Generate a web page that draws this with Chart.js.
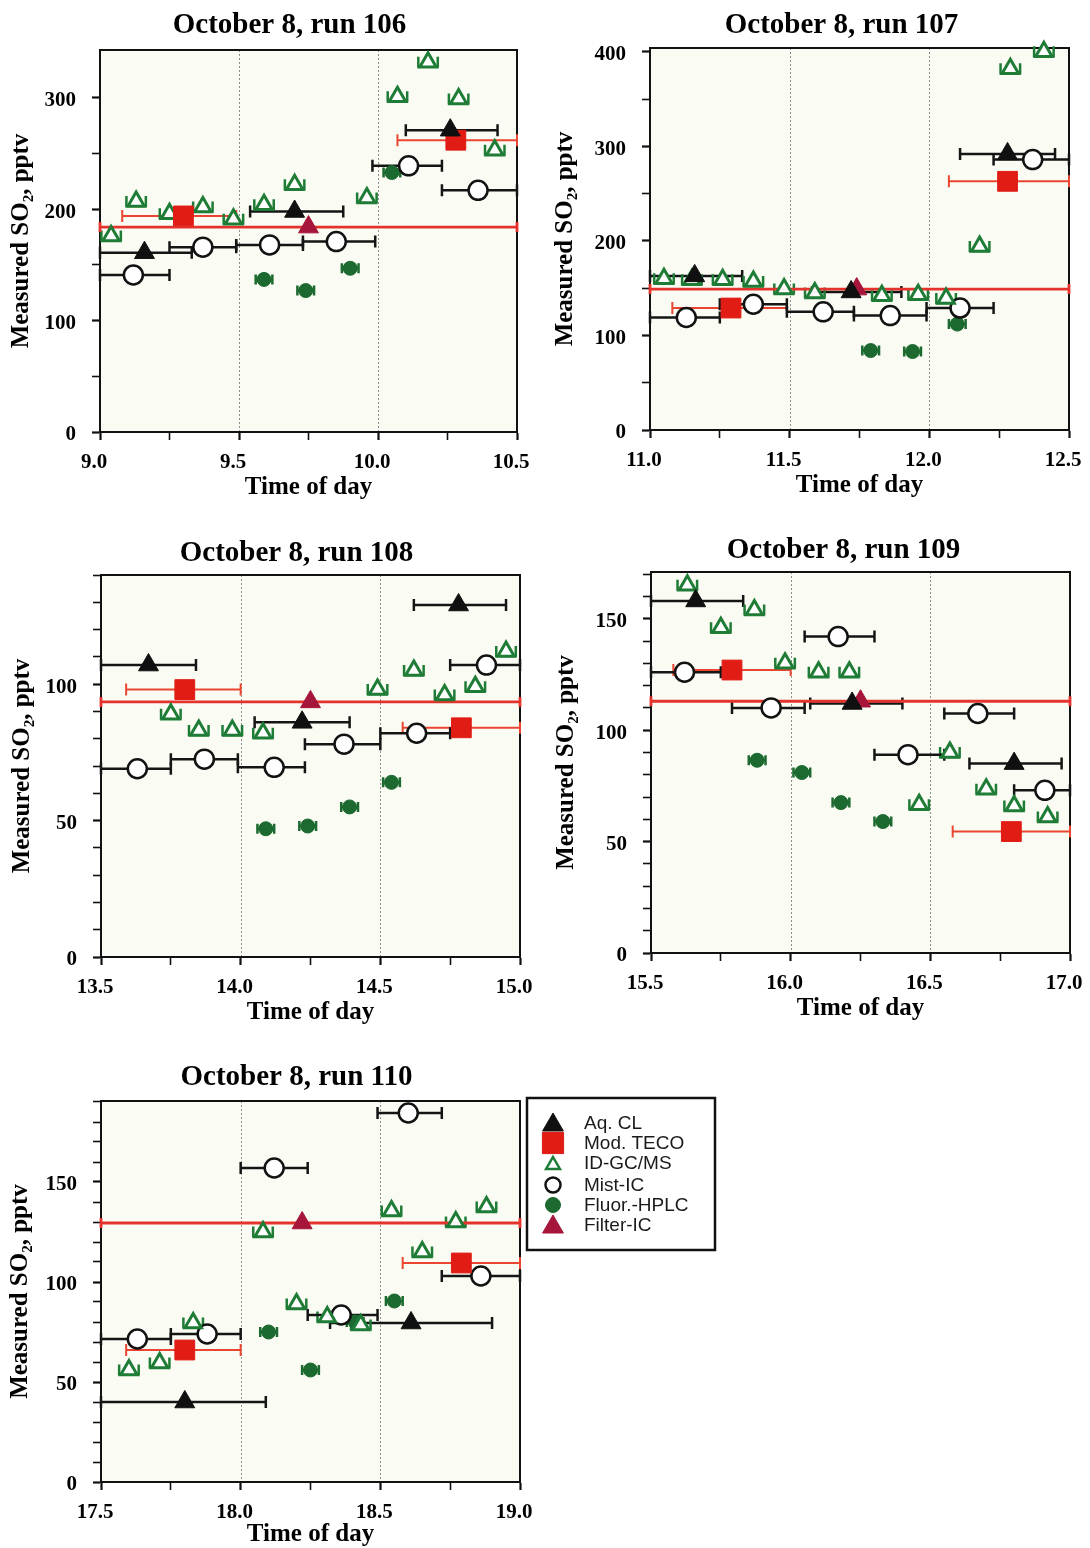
<!DOCTYPE html>
<html>
<head>
<meta charset="utf-8">
<script src="https://cdn.jsdelivr.net/npm/chart.js@4.4.0/dist/chart.umd.min.js"></script>
<style>
html,body{margin:0;padding:0;background:#ffffff;width:1090px;height:1548px;overflow:hidden;}
canvas{position:absolute;display:block;}
</style>
</head>
<body>
<script>
// ================= DATA =================
const seriesNames = ['Aq. CL', 'Mod. TECO', 'ID-GC/MS', 'Mist-IC', 'Fluor.-HPLC', 'Filter-IC'];
const panelTitles = ['October 8, run 106', 'October 8, run 107', 'October 8, run 108', 'October 8, run 109', 'October 8, run 110'];
const xRanges = [[9.0, 10.5], [11.0, 12.5], [13.5, 15.0], [15.5, 17.0], [17.5, 19.0]];
const yMaxes = [343, 404, 140, 171, 190.5];
const yTickSteps = [50, 50, 10, 10, 10];
const yLabelSteps = [100, 100, 50, 50, 50];
const xTickStep = 0.25;
const xLabelStep = 0.5;
const xAxisTitle = 'Time of day';
const yAxisTitle = 'Measured SO\u2082, pptv';
// half-width (hours) of the small sampling bars of ID-GC/MS and Fluor.-HPLC
const gcmsHalf = 0.035;
const hplcHalf = 0.03;

// points: [time, SO2, timeStart, timeEnd]
// ---- run 106 ----
const r106_aq = [[9.16, 161, 9.0, 9.33], [9.70, 198, 9.54, 9.875], [10.26, 271, 10.10, 10.43]];
const r106_teco = [[9.30, 194, 9.08, 9.49], [10.28, 262, 10.07, 10.5]];
const r106_gcms = [[9.04, 176], [9.13, 207], [9.25, 196], [9.37, 202], [9.48, 191], [9.59, 204], [9.70, 222], [9.96, 210], [10.07, 301], [10.18, 332], [10.29, 299], [10.42, 253]];
const r106_mist = [[9.12, 141, 9.0, 9.25], [9.37, 166, 9.25, 9.49], [9.61, 168, 9.49, 9.73], [9.85, 171, 9.73, 9.99], [10.11, 239, 9.98, 10.23], [10.36, 217, 10.23, 10.5]];
const r106_hplc = [[9.59, 137], [9.74, 127], [9.90, 147], [10.05, 233]];
const r106_filter = [[9.75, 184, 9.0, 10.5]];
// ---- run 107 ----
const r107_aq = [[11.16, 163, 11.0, 11.33], [11.72, 146, 11.58, 11.90], [12.28, 292, 12.11, 12.45]];
const r107_teco = [[11.29, 129, 11.08, 11.49], [12.28, 263, 12.07, 12.5]];
const r107_gcms = [[11.05, 160], [11.15, 159], [11.26, 159], [11.37, 157], [11.48, 149], [11.59, 145], [11.83, 142], [11.96, 143], [12.06, 139], [12.18, 194], [12.29, 382], [12.41, 400]];
const r107_mist = [[11.13, 119, 11.0, 11.25], [11.37, 133, 11.25, 11.49], [11.62, 125, 11.49, 11.73], [11.86, 121, 11.73, 11.99], [12.11, 129, 11.99, 12.23], [12.37, 286, 12.23, 12.5]];
const r107_hplc = [[11.79, 84], [11.94, 83], [12.10, 112]];
const r107_filter = [[11.74, 149, 11.0, 12.5]];
// ---- run 108 ----
const r108_aq = [[13.67, 107, 13.5, 13.84], [14.22, 86, 14.05, 14.39], [14.78, 129, 14.62, 14.95]];
const r108_teco = [[13.80, 98, 13.59, 14.0], [14.79, 84, 14.58, 15.0]];
const r108_gcms = [[13.75, 89], [13.85, 83], [13.97, 83], [14.08, 82], [14.49, 98], [14.62, 105], [14.73, 96], [14.84, 99], [14.95, 112]];
const r108_mist = [[13.63, 69, 13.5, 13.75], [13.87, 72.5, 13.75, 13.99], [14.12, 69.5, 13.99, 14.23], [14.37, 78, 14.23, 14.5], [14.63, 82, 14.5, 14.75], [14.88, 107, 14.75, 15.0]];
const r108_hplc = [[14.09, 47], [14.24, 48], [14.39, 55], [14.54, 64]];
const r108_filter = [[14.25, 93.5, 13.5, 15.0]];
// ---- run 109 ----
const r109_aq = [[15.66, 158, 15.5, 15.83], [16.22, 112, 16.07, 16.40], [16.80, 85, 16.64, 16.97]];
const r109_teco = [[15.79, 127, 15.58, 16.0], [16.79, 54.5, 16.58, 17.0]];
const r109_gcms = [[15.63, 165], [15.75, 146], [15.87, 154], [15.98, 130], [16.10, 126], [16.21, 126], [16.46, 66.5], [16.57, 90], [16.70, 73.5], [16.80, 66], [16.92, 61]];
const r109_mist = [[15.62, 126, 15.5, 15.75], [15.93, 110, 15.79, 16.05], [16.17, 142, 16.05, 16.3], [16.42, 89, 16.3, 16.55], [16.67, 107.5, 16.55, 16.8], [16.91, 73, 16.8, 17.0]];
const r109_hplc = [[15.88, 86.5], [16.04, 81], [16.18, 67.5], [16.33, 59]];
const r109_filter = [[16.25, 113, 15.5, 17.0]];
// ---- run 110 ----
const r110_aq = [[17.80, 40, 17.5, 18.09], [18.61, 79.5, 18.32, 18.90]];
const r110_teco = [[17.80, 66, 17.59, 18.0], [18.79, 109.5, 18.58, 19.0]];
const r110_gcms = [[17.60, 56], [17.71, 59.5], [17.83, 79.5], [18.08, 125], [18.20, 89], [18.31, 82.5], [18.43, 78.5], [18.54, 135.5], [18.65, 115], [18.77, 130], [18.88, 137.5]];
const r110_mist = [[17.63, 71.5, 17.5, 17.75], [17.88, 74, 17.75, 18.0], [18.12, 157, 18.0, 18.24], [18.36, 83.5, 18.24, 18.49], [18.60, 184.5, 18.49, 18.72], [18.86, 103, 18.72, 19.0]];
const r110_hplc = [[18.10, 75], [18.25, 56], [18.41, 80], [18.55, 90.5]];
const r110_filter = [[18.22, 129.5, 17.5, 19.0]];

const runData = [
  [r106_aq, r106_teco, r106_gcms, r106_mist, r106_hplc, r106_filter],
  [r107_aq, r107_teco, r107_gcms, r107_mist, r107_hplc, r107_filter],
  [r108_aq, r108_teco, r108_gcms, r108_mist, r108_hplc, r108_filter],
  [r109_aq, r109_teco, r109_gcms, r109_mist, r109_hplc, r109_filter],
  [r110_aq, r110_teco, r110_gcms, r110_mist, r110_hplc, r110_filter]
];
const seriesHalf = [null, null, gcmsHalf, null, hplcHalf, null];

// ================= STYLE / LAYOUT =================
const SERIF = '"Liberation Serif", "Times New Roman", "DejaVu Serif", serif';
const SANS = '"Liberation Sans", Arial, "DejaVu Sans", sans-serif';

const seriesStyle = [
  {ps: 'triangle', r: 11.5, bg: '#101010', bc: '#101010', bw: 1, bar: {color: '#151515', width: 2.5, up: 6, down: 6, dy: 0}},
  {ps: 'rect', r: 14, bg: '#e01c15', bc: '#e01c15', bw: 1, bar: {color: '#ea4531', width: 2, up: 6, down: 6, dy: 0}},
  {ps: 'triangle', r: 9.5, bg: 'rgba(255,255,255,0.95)', bc: '#1f7c36', bw: 3, bar: {color: '#1f7c36', width: 2.5, up: 10, down: 1, dy: 4.5}},
  {ps: 'circle', r: 9.5, bg: '#ffffff', bc: '#121212', bw: 2.5, bar: {color: '#151515', width: 2.5, up: 6, down: 6, dy: 0}},
  {ps: 'circle', r: 7, bg: '#1c6a2f', bc: '#1c6a2f', bw: 1, bar: {color: '#1c6a2f', width: 2.5, up: 5, down: 5, dy: 0}},
  {ps: 'triangle', r: 11.5, bg: '#a6153a', bc: '#a6153a', bw: 1, bar: {color: '#e4332d', width: 2.8, up: 5, down: 5, dy: 0}}
];

// plot rectangles on the page: [left, top, right, bottom]
const plotRects = [[100, 50, 517, 432], [650, 48, 1069, 430], [101, 575, 520, 957], [651, 572, 1070, 953], [101, 1101, 520, 1482]];
const titleOffsets = [[-19, -17], [-18, -15], [-14, -14], [-17, -14], [-14, -16]];
const yTitlePads = [7, 1, 7, 1, 5];
const PAD_L = 100, PAD_T = 45;

function isMult(v, step) { return Math.abs(v / step - Math.round(v / step)) < 1e-6; }

function buildData(arr, half) {
  return arr.map(p => ({
    x: p[0], y: p[1],
    xMin: p.length > 2 ? p[2] : (half ? p[0] - half : null),
    xMax: p.length > 2 ? p[3] : (half ? p[0] + half : null)
  }));
}

function drawMarker(ctx, st, r, x, y) {
  ctx.beginPath();
  if (st.ps === 'triangle') {
    ctx.moveTo(x, y - r);
    ctx.lineTo(x + r * 0.866, y + r / 2);
    ctx.lineTo(x - r * 0.866, y + r / 2);
    ctx.closePath();
  } else if (st.ps === 'rect') {
    const s = r * Math.SQRT1_2;
    ctx.rect(x - s, y - s, 2 * s, 2 * s);
  } else {
    ctx.arc(x, y, r, 0, Math.PI * 2);
  }
  ctx.fillStyle = st.bg; ctx.fill();
  ctx.lineWidth = st.bw; ctx.strokeStyle = st.bc; ctx.stroke();
}

const panelDecor = {
  id: 'panelDecor',
  beforeDraw(chart) {
    const {ctx, chartArea: a} = chart;
    ctx.save();
    ctx.fillStyle = '#fafcf4';
    ctx.fillRect(a.left, a.top, a.right - a.left, a.bottom - a.top);
    ctx.restore();
  },
  beforeDatasetsDraw(chart) {
    const {ctx, chartArea: a, scales: {x, y}} = chart;
    // dotted vertical grid lines at the inner labelled times
    ctx.save();
    ctx.strokeStyle = '#8f8f8f'; ctx.lineWidth = 1; ctx.setLineDash([2, 2]);
    x.ticks.forEach(t => {
      if (isMult(t.value, xLabelStep) && t.value > x.min + 1e-6 && t.value < x.max - 1e-6) {
        const px = Math.round(x.getPixelForValue(t.value)) + 0.5;
        ctx.beginPath(); ctx.moveTo(px, a.top); ctx.lineTo(px, a.bottom); ctx.stroke();
      }
    });
    ctx.restore();
    // frame
    ctx.save();
    ctx.strokeStyle = '#111'; ctx.lineWidth = 2;
    ctx.strokeRect(a.left, a.top, a.right - a.left, a.bottom - a.top);
    ctx.restore();
    // horizontal bars (sampling intervals)
    chart.data.datasets.forEach(ds => {
      const eb = ds.errorBar;
      if (!eb) return;
      ctx.save();
      ctx.strokeStyle = eb.color; ctx.lineWidth = eb.width; ctx.lineCap = 'butt';
      ds.data.forEach(p => {
        if (p.xMin == null || p.xMax == null) return;
        const py = y.getPixelForValue(p.y) + eb.dy;
        const x1 = x.getPixelForValue(p.xMin), x2 = x.getPixelForValue(p.xMax);
        ctx.beginPath();
        ctx.moveTo(x1, py); ctx.lineTo(x2, py);
        ctx.moveTo(x1, py - eb.up); ctx.lineTo(x1, py + eb.down);
        ctx.moveTo(x2, py - eb.up); ctx.lineTo(x2, py + eb.down);
        ctx.stroke();
      });
      ctx.restore();
    });
  },
  afterDraw(chart, args, opts) {
    const {ctx, chartArea: a} = chart;
    ctx.save();
    ctx.font = 'bold 29px ' + SERIF;
    ctx.fillStyle = '#000';
    ctx.textAlign = 'center';
    ctx.textBaseline = 'alphabetic';
    ctx.fillText(opts.text, (a.left + a.right) / 2 + opts.dx, a.top + opts.dy);
    ctx.restore();
  }
};

const legendBox = {
  id: 'legendBox',
  afterDraw(chart) {
    const {ctx, chartArea: a} = chart;
    const bx = a.right + 7, by = a.top - 3, bw = 188, bh = 152;
    ctx.save();
    ctx.strokeStyle = '#111'; ctx.lineWidth = 2.5;
    ctx.strokeRect(bx, by, bw, bh);
    const rows = [25, 45, 65, 87, 107, 127];
    const legR = [12, 15, 8, 7.5, 7.5, 12];
    seriesNames.forEach((name, i) => {
      const st = Object.assign({}, seriesStyle[i]);
      if (i === 2) st.bw = 2.5;
      drawMarker(ctx, st, legR[i], bx + 26, by + rows[i] + (st.ps === 'triangle' ? 2 : 0));
      ctx.font = '19px ' + SANS;
      ctx.fillStyle = '#1a1a1a';
      ctx.textAlign = 'left';
      ctx.textBaseline = 'middle';
      ctx.fillText(name, bx + 57, by + rows[i] + 1);
    });
    ctx.restore();
  }
};

panelTitles.forEach((title, k) => {
  const [L, T, R, B] = plotRects[k];
  const padR = k === 4 ? 200 : 30;
  const padB = k === 4 ? 68 : 75;
  const xTitlePadB = k === 4 ? 0 : 4;
  const cv = document.createElement('canvas');
  const W = (R - L) + PAD_L + padR;
  const H = (B - T) + PAD_T + padB;
  cv.width = W; cv.height = H;
  cv.style.width = W + 'px'; cv.style.height = H + 'px';
  cv.style.left = (L - PAD_L) + 'px';
  cv.style.top = (T - PAD_T) + 'px';
  document.body.appendChild(cv);

  const datasets = runData[k].map((arr, i) => {
    const st = seriesStyle[i];
    return {
      label: seriesNames[i],
      data: buildData(arr, seriesHalf[i]),
      pointStyle: st.ps,
      pointRadius: st.r,
      pointBackgroundColor: st.bg,
      pointBorderColor: st.bc,
      pointBorderWidth: st.bw,
      showLine: false,
      clip: false,
      errorBar: st.bar
    };
  });

  const labelStep = yLabelSteps[k];
  new Chart(cv, {
    type: 'scatter',
    data: {datasets},
    plugins: k === 4 ? [panelDecor, legendBox] : [panelDecor],
    options: {
      responsive: false,
      animation: false,
      events: [],
      layout: {padding: {left: 0, top: PAD_T, right: padR, bottom: 0}},
      plugins: {
        legend: {display: false},
        tooltip: {enabled: false},
        panelDecor: {text: title, dx: titleOffsets[k][0], dy: titleOffsets[k][1]}
      },
      scales: {
        x: {
          type: 'linear',
          min: xRanges[k][0], max: xRanges[k][1],
          afterFit(s) { s.height = padB; },
          ticks: {
            stepSize: xTickStep, includeBounds: false, autoSkip: false, maxRotation: 0, padding: 10,
            labelOffset: -6,
            color: '#000', font: {family: SERIF, weight: 'bold', size: 21},
            callback: v => isMult(v, xLabelStep) ? v.toFixed(1) : ''
          },
          grid: {
            drawOnChartArea: false, drawTicks: true, tickLength: 8, tickColor: '#111',
            tickWidth: c => (c.tick && isMult(c.tick.value, xLabelStep)) ? 2.2 : 1.6
          },
          border: {display: true, color: '#111', width: 2},
          title: {display: true, text: xAxisTitle, color: '#000', font: {family: SERIF, weight: 'bold', size: 25}, padding: {top: 0, bottom: xTitlePadB}}
        },
        y: {
          type: 'linear',
          min: 0, max: yMaxes[k],
          afterFit(s) { s.width = PAD_L; },
          ticks: {
            stepSize: yTickSteps[k], includeBounds: false, autoSkip: false, padding: 16,
            labelOffset: 3,
            color: '#000', font: {family: SERIF, weight: 'bold', size: 21},
            callback: v => isMult(v, labelStep) ? String(v) : ''
          },
          grid: {
            drawOnChartArea: false, drawTicks: true, tickLength: 8, tickColor: '#111',
            tickWidth: c => (c.tick && isMult(c.tick.value, labelStep)) ? 2.2 : 1.6
          },
          border: {display: true, color: '#111', width: 2},
          title: {display: true, text: yAxisTitle, color: '#000', font: {family: SERIF, weight: 'bold', size: 25}, padding: {top: yTitlePads[k], bottom: 0}}
        }
      }
    }
  });
});
</script>
</body>
</html>
